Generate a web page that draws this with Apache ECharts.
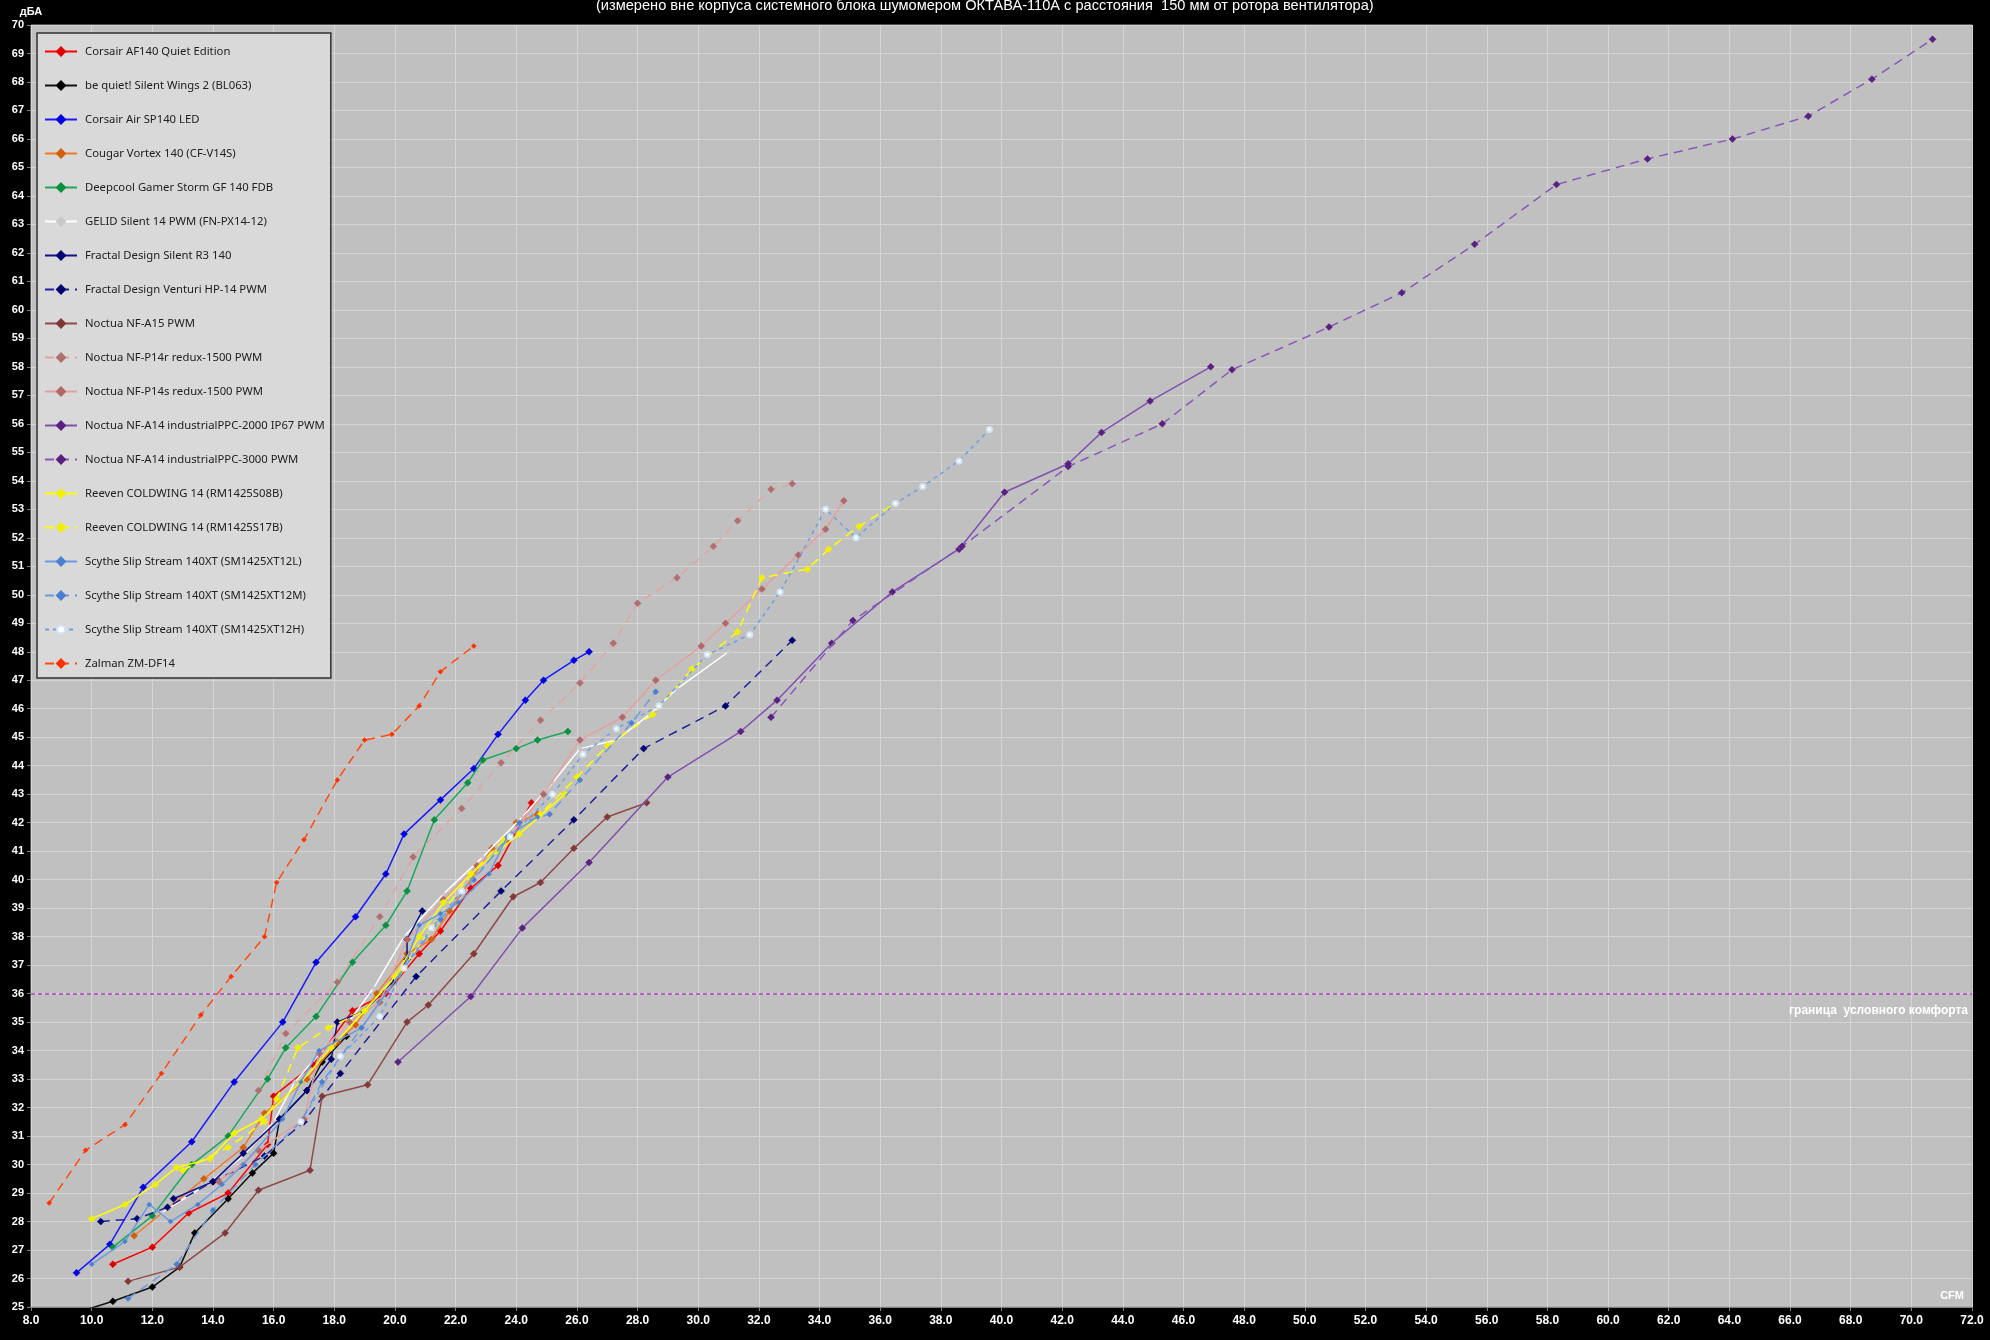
<!DOCTYPE html>
<html><head><meta charset="utf-8">
<script src="https://cdn.jsdelivr.net/npm/echarts@6/dist/echarts.min.js"></script>
<style>html,body{margin:0;padding:0;background:#000;}#c{width:1990px;height:1340px;}</style>
</head><body><div id="c"></div>
<script>
// ---- data (CFM, dBA) ----
const corsairAF140 = [[10.7,26.5],[12.0,27.1],[13.2,28.3],[14.5,29.0],[15.8,30.7],[16.0,32.4],[17.3,33.5],[18.6,35.4],[19.7,36.0],[20.8,37.4],[21.5,38.2],[22.5,39.7],[23.4,40.5],[24.5,42.7]];
const beQuietSW2 = [[9.5,24.8],[10.7,25.2],[12.0,25.7],[12.9,26.4],[13.4,27.6],[14.5,28.8],[15.3,29.7],[16.0,30.4],[16.2,31.6],[17.1,32.6],[17.6,33.6],[18.4,34.5]];
const corsairSP140 = [[9.5,26.2],[10.6,27.2],[11.7,29.2],[13.3,30.8],[14.7,32.9],[16.3,35.0],[17.4,37.1],[18.7,38.7],[19.7,40.2],[20.3,41.6],[21.5,42.8],[22.6,43.9],[23.4,45.1],[24.3,46.3],[24.9,47.0],[25.9,47.7],[26.4,48.0]];
const cougarVortex = [[11.4,27.5],[13.7,29.5],[15.0,30.6],[15.7,31.8],[17.1,33.0],[18.1,34.3],[18.7,34.9],[19.4,36.0],[20.4,37.4],[21.2,37.9],[21.8,38.9],[23.2,41.1],[24.0,42.0],[24.7,42.3]];
const deepcoolGF140 = [[10.7,27.1],[12.0,28.2],[13.3,30.0],[14.5,31.0],[15.8,33.0],[16.4,34.1],[17.4,35.2],[18.6,37.1],[19.7,38.4],[20.4,39.6],[21.3,42.1],[22.4,43.4],[22.9,44.2],[24.0,44.6],[24.7,44.9],[25.7,45.2]];
const gelidSilent14 = [[12.3,28.3],[13.8,29.3],[15.0,30.3],[16.0,31.5],[16.7,32.9],[17.6,34.0],[18.4,34.9],[19.3,36.2],[20.3,38.0],[21.6,39.5],[22.9,40.8],[24.2,42.2],[25.2,43.4],[26.1,44.6],[27.3,44.9],[28.4,45.8],[29.3,46.7],[31.0,48.0]];
const fractalR3 = [[12.7,28.8],[14.0,29.4],[15.0,30.4],[16.2,31.6],[17.1,32.6],[17.9,33.7],[18.1,35.0],[19.0,35.4],[19.9,36.4],[20.4,37.2],[20.4,37.9],[20.9,38.9]];
const fractalVenturi = [[10.3,28.0],[11.5,28.1],[12.5,28.5],[14.0,29.4],[15.7,30.3],[17.0,31.5],[18.2,33.2],[20.7,36.6],[23.5,39.6],[25.9,42.1],[28.2,44.6],[30.9,46.1],[33.1,48.4]];
const noctuaA15 = [[11.2,25.9],[12.9,26.4],[14.4,27.6],[15.5,29.1],[17.2,29.8],[17.6,32.4],[19.1,32.8],[20.4,35.0],[21.1,35.6],[22.6,37.4],[23.9,39.4],[24.8,39.9],[25.9,41.1],[27.0,42.2],[28.3,42.7]];
const noctuaP14r = [[15.5,32.6],[16.4,34.6],[18.1,36.4],[19.5,38.7],[20.6,40.8],[22.2,42.5],[23.5,44.1],[24.8,45.6],[26.1,46.9],[27.2,48.3],[28.0,49.7],[29.3,50.6],[30.5,51.7],[31.3,52.6],[32.4,53.7],[33.1,53.9]];
const noctuaP14s = [[14.2,29.4],[15.5,30.5],[17.0,31.6],[17.5,33.9],[18.5,35.0],[19.5,35.7],[20.4,37.9],[21.6,39.3],[22.7,40.5],[23.7,41.4],[24.9,43.0],[26.1,44.9],[27.5,45.7],[28.6,47.0],[30.1,48.2],[30.9,49.0],[32.1,50.2],[33.3,51.4],[34.2,52.3],[34.8,53.3]];
const noctuaA14_2000 = [[20.1,33.6],[22.5,35.9],[24.2,38.3],[26.4,40.6],[29.0,43.6],[31.4,45.2],[32.6,46.3],[34.4,48.3],[36.4,50.1],[38.6,51.6],[40.1,53.6],[42.2,54.6],[43.3,55.7],[44.9,56.8],[46.9,58.0]];
const noctuaA14_3000 = [[32.4,45.7],[35.1,49.1],[38.7,51.7],[42.2,54.5],[45.3,56.0],[47.6,57.9],[50.8,59.4],[53.2,60.6],[55.6,62.3],[58.3,64.4],[61.3,65.3],[64.1,66.0],[66.6,66.8],[68.7,68.1],[70.7,69.5]];
const reevenS08B = [[10.0,28.1],[11.1,28.6],[12.1,29.3],[12.8,29.9],[13.9,30.2],[14.7,31.1],[15.6,31.6],[16.9,32.9],[17.9,34.1],[19.0,35.4],[20.0,36.6],[20.8,38.0],[21.6,39.2],[22.5,40.2],[23.4,41.0],[24.1,41.6],[25.6,43.0]];
const reevenS17B = [[13.0,29.8],[14.5,30.6],[15.7,31.5],[16.1,32.3],[16.8,34.1],[17.8,34.8],[19.0,35.4],[20.2,36.8],[21.2,38.3],[22.5,40.2],[23.6,41.4],[24.8,42.3],[26.0,43.6],[27.0,44.7],[28.5,45.8],[29.8,47.4],[31.3,48.7],[32.1,50.6],[33.6,50.9],[34.3,51.6],[35.3,52.4],[36.5,53.2]];
const scytheL = [[10.0,26.5],[11.1,27.3],[11.9,28.6],[12.6,28.0],[13.5,28.6],[14.3,29.3],[15.0,30.0],[16.3,31.6],[16.9,32.9],[17.5,34.0],[18.9,34.8],[20.3,36.9],[20.8,38.4],[21.5,38.8],[22.1,39.2],[23.1,40.2],[23.7,41.5],[24.7,42.2]];
const scytheM = [[11.2,25.3],[12.8,26.5],[14.0,28.4],[15.4,30.0],[16.9,31.5],[17.6,32.9],[18.9,34.8],[20.3,36.9],[21.5,38.6],[22.6,40.0],[24.1,42.0],[25.1,42.3],[26.1,43.5],[27.8,45.5],[28.6,46.6]];
const scytheH = [[16.9,31.5],[18.2,33.8],[19.5,35.2],[20.3,36.9],[21.2,38.3],[22.2,39.6],[23.8,41.5],[25.2,43.0],[26.2,44.4],[27.3,45.3],[28.7,46.1],[30.3,47.9],[31.7,48.6],[32.7,50.1],[34.2,53.0],[35.2,52.0],[36.5,53.2],[37.4,53.8],[38.6,54.7],[39.6,55.8]];
const zalmanDF14 = [[8.6,28.65],[9.8,30.5],[11.1,31.4],[12.3,33.2],[13.6,35.25],[14.6,36.6],[15.7,38.0],[16.1,39.9],[17.0,41.4],[18.1,43.5],[19.0,44.9],[19.9,45.1],[20.8,46.1],[21.5,47.3],[22.6,48.2]];

const seriesNames = ['Corsair AF140 Quiet Edition','be quiet! Silent Wings 2 (BL063)','Corsair Air SP140 LED','Cougar Vortex 140 (CF-V14S)','Deepcool Gamer Storm GF 140 FDB','GELID Silent 14 PWM (FN-PX14-12)','Fractal Design Silent R3 140','Fractal Design Venturi HP-14 PWM','Noctua NF-A15 PWM','Noctua NF-P14r redux-1500 PWM','Noctua NF-P14s redux-1500 PWM','Noctua NF-A14 industrialPPC-2000 IP67 PWM','Noctua NF-A14 industrialPPC-3000 PWM','Reeven COLDWING 14 (RM1425S08B)','Reeven COLDWING 14 (RM1425S17B)','Scythe Slip Stream 140XT (SM1425XT12L)','Scythe Slip Stream 140XT (SM1425XT12M)','Scythe Slip Stream 140XT (SM1425XT12H)','Zalman ZM-DF14'];
const seriesData = [corsairAF140,beQuietSW2,corsairSP140,cougarVortex,deepcoolGF140,gelidSilent14,fractalR3,fractalVenturi,noctuaA15,noctuaP14r,noctuaP14s,noctuaA14_2000,noctuaA14_3000,reevenS08B,reevenS17B,scytheL,scytheM,scytheH,zalmanDF14];
const comfortLevel = 36;
const comfortLabel = 'граница  условного комфорта';
const titleText = '(измерено вне корпуса системного блока шумомером ОКТАВА-110А с расстояния  150 мм от ротора вентилятора)';

// ---- styles ----
const styles = [
  {c:'#ff0000', m:'#e00000', t:'solid'},
  {c:'#101010', m:'#000000', t:'solid'},
  {c:'#1a1aff', m:'#0000e0', t:'solid'},
  {c:'#f07828', m:'#d0600c', t:'solid'},
  {c:'#1aa85a', m:'#0a9040', t:'solid'},
  {c:'#ffffff', m:'#c8c8c8', t:'solid', s:5},
  {c:'#10108a', m:'#000070', t:'solid'},
  {c:'#20209a', m:'#000070', t:[9,6]},
  {c:'#904848', m:'#803838', t:'solid'},
  {c:'#e0a4a4', m:'#b07070', t:[9,6]},
  {c:'#e4a0a0', m:'#b06868', t:'solid'},
  {c:'#8050b0', m:'#5a2080', t:'solid'},
  {c:'#8858b8', m:'#5a2080', t:[9,6]},
  {c:'#ffff00', m:'#f0f000', t:'solid'},
  {c:'#ffff00', m:'#f0f000', t:[9,6]},
  {c:'#6a9ae0', m:'#4a80d0', t:'solid', s:5},
  {c:'#6a9ae0', m:'#4a80d0', t:[9,6], s:6},
  {c:'#6aa0e8', m:'#6aa0e8', t:[4,4], sym:'emptyCircle', s:5},
  {c:'#ff4a10', m:'#ff3000', t:[9,6], s:5}
];

const series = seriesNames.map((n,i)=>{
  const st = styles[i];
  return {
    name:n, type:'line', data:seriesData[i],
    symbol: st.sym || 'diamond', symbolSize: st.s || 7,
    lineStyle:{color:st.c, width:1.5, type:st.t},
    itemStyle:{color: st.sym ? '#d4e4f8' : st.m, borderColor: st.sym ? st.c : st.m, borderWidth: st.sym?1.2:0.5},
    emphasis:{disabled:true}, animation:false, clip:true, z: 3+i
  };
});
series.push({
  name:'comfort', type:'line', data:[], silent:true, animation:false,
  markLine:{silent:true, symbol:'none', animation:false,
    lineStyle:{color:'#b040c0', type:[4,3], width:1.5},
    label:{show:true, position:'insideEndBottom', formatter:comfortLabel, color:'#ffffff', fontWeight:'bold', fontSize:12, fontFamily:'Liberation Sans', distance:[4,11]},
    data:[{yAxis:comfortLevel}]}
});

const chart = echarts.init(document.getElementById('c'), null, {renderer:'canvas'});
chart.setOption({
  backgroundColor:'#000000',
  animation:false,
  title:{text:titleText, left:591, top:-7, textStyle:{color:'#ffffff', fontSize:14.6, fontWeight:'normal', fontFamily:'Liberation Sans'}},
  grid:{left:31, right:18, top:25, bottom:33, show:true, backgroundColor:'#c0c0c0', borderColor:'#a0a0a0', borderWidth:1},
  legend:{
    orient:'vertical', left:37, top:33, data:seriesNames,
    backgroundColor:'#d9d9d9', borderColor:'#303030', borderWidth:1.5,
    padding:[13,6,9,7], itemGap:23, itemWidth:32, itemHeight:10,
    textStyle:{color:'#202020', fontSize:11.3, fontFamily:'Noto Sans', padding:[0,0,0,3]},
    selectedMode:false
  },
  xAxis:{type:'value', min:8, max:72, interval:2,
    axisLine:{show:true, lineStyle:{color:'#808080'}},
    axisTick:{show:true, length:4, lineStyle:{color:'#808080'}},
    axisLabel:{color:'#ffffff', fontWeight:'bold', fontSize:12, fontFamily:'Liberation Sans', margin:8, formatter:v=>v.toFixed(1)},
    splitLine:{show:true, lineStyle:{color:'#d6d6d6', width:1}}
  },
  yAxis:{type:'value', min:25, max:70, interval:1, name:'дБА', nameLocation:'end', nameGap:8,
    nameTextStyle:{color:'#ffffff', fontWeight:'bold', fontSize:11, fontFamily:'Liberation Sans', align:'center'},
    axisLine:{show:false},
    axisTick:{show:true, length:4, lineStyle:{color:'#808080'}},
    axisLabel:{color:'#ffffff', fontWeight:'bold', fontSize:11, fontFamily:'Liberation Sans', margin:7},
    splitLine:{show:true, lineStyle:{color:'#d6d6d6', width:1}}
  },
  graphic:[{type:'text', right:26, bottom:39, style:{text:'CFM', fill:'#ffffff', fontWeight:'bold', fontSize:11, fontFamily:'Liberation Sans'}}],
  series:series
});
</script></body></html>
